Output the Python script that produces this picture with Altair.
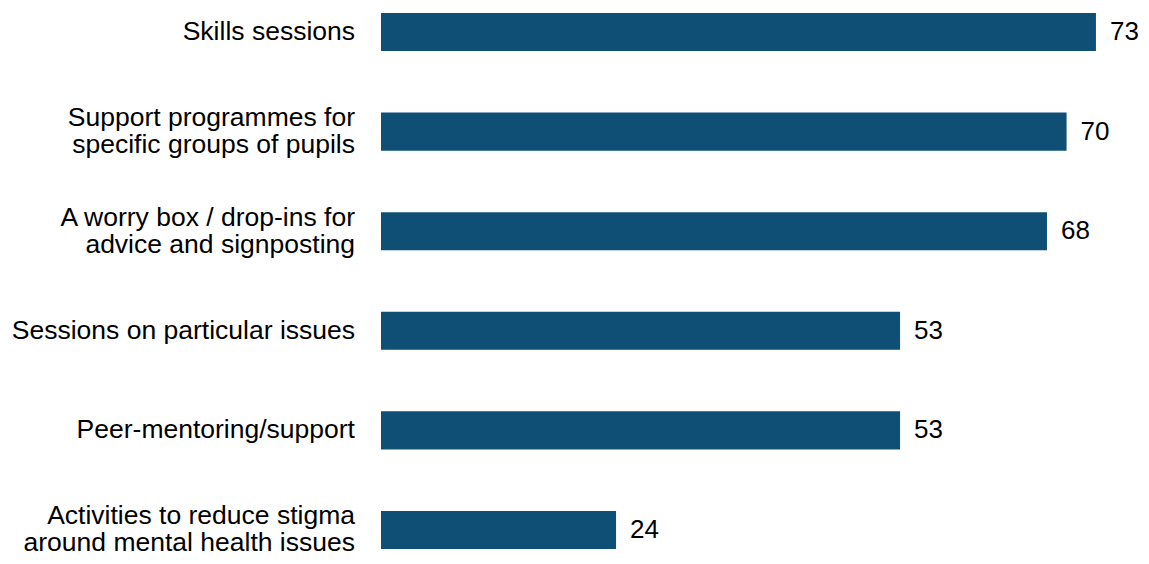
import altair as alt
import pandas as pd

categories = [
    "Skills sessions",
    "Support programmes for|specific groups of pupils",
    "A worry box / drop-ins for|advice and signposting",
    "Sessions on particular issues",
    "Peer-mentoring/support",
    "Activities to reduce stigma|around mental health issues",
]
values = [73, 70, 68, 53, 53, 24]

df = pd.DataFrame({"category": categories, "value": values})
df["lines"] = df["category"].str.count(r"\|") + 1

FONT = "Liberation Sans"
BAR = "#104F75"
FS = 26.5

y_enc = alt.Y(
    "category:N",
    sort=None,
    scale=alt.Scale(paddingInner=0.618, paddingOuter=0),
    axis=None,
)
x_enc = alt.X(
    "value:Q",
    scale=alt.Scale(domain=[0, 77.6]),
    axis=None,
)

base = alt.Chart(df)
bars = base.mark_bar(color=BAR).encode(x=x_enc, y=y_enc)
values_text = base.mark_text(
    align="left", baseline="middle", dx=14, font=FONT, fontSize=26, color="#000000"
).encode(x=x_enc, y=y_enc, text=alt.Text("value:Q", format="d"))

cat1 = base.transform_filter("datum.lines == 1").mark_text(
    align="right", baseline="middle", font=FONT, fontSize=FS, color="#000000"
).encode(x=alt.value(-26), y=y_enc, text="category:N")

cat2 = base.transform_filter("datum.lines == 2").mark_text(
    align="right", baseline="middle", font=FONT, fontSize=FS, color="#000000",
    lineBreak="|", lineHeight=27, dy=-13.5,
).encode(x=alt.value(-26), y=y_enc, text="category:N")

chart = (
    alt.layer(bars, values_text, cat1, cat2)
    .properties(
        width=760,
        height=536,
        autosize=alt.AutoSizeParams(type="none"),
        padding={"left": 373, "top": 5, "right": 0, "bottom": 7},
        background="#ffffff",
    )
    .configure_view(strokeWidth=0)
)

chart.save("out.html", embed_options={"renderer": "svg", "actions": False})
